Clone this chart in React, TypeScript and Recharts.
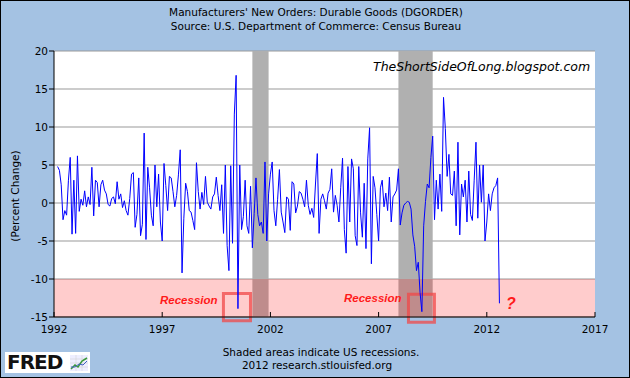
import React from "react";
import { LineChart, Line, XAxis, YAxis, CartesianGrid, ReferenceArea } from "recharts";

// Durable goods new orders, percent change month over month.
// 1992 starts in March (first change after the Feb 1992 level).
const y1992 = [4.8, 4.3, 2.4, -2.2, -1.0, -1.6, 3.0, 6.0, -4.1, 3.0];
const y1993 = [-4.0, 6.2, -1.1, 0.5, -0.3, 1.6, -0.5, 0.8, -0.2, 4.7, -1.7, 3.0];
const y1994 = [2.7, -0.5, 2.4, 3.0, 1.7, 1.2, -0.2, -0.4, 0.6, 0.8, -0.1, 2.8];
const y1995 = [0.5, 1.2, -0.6, 0.3, -1.0, -1.6, 0.6, 3.8, 4.0, -3.2, -1.5, 3.3];
const y1996 = [-4.3, -2.8, 9.2, -4.8, 4.7, 2.0, -1.6, -3.0, 5.0, -0.5, 3.8, -2.5];
const y1997 = [-5.0, 5.2, 2.3, -1.0, 3.5, 3.3, 1.5, -0.5, 1.0, 3.7, 7.0, -9.2];
const y1998 = [-2.0, 2.6, 1.5, -1.0, -1.2, -2.3, -3.5, 5.3, 1.5, -0.8, 1.4, -0.2];
const y1999 = [3.5, 0.1, -0.4, -0.8, 0.8, 1.2, 3.4, 1.0, -1.0, 2.4, -4.0, 5.0];
const y2000 = [-5.6, -8.9, 4.9, -5.3, 11.7, 16.8, -13.9, 5.0, -3.5, -1.8, 3.0, -3.0];
const y2001 = [-4.0, 2.2, -5.9, -1.4, 3.3, -1.5, -3.0, -2.5, -4.0, 5.4, -5.0, 1.2];
const y2002 = [3.8, 5.4, -1.0, -3.0, 0.5, 4.4, -1.2, -2.5, -3.9, 0.8, 0.5, -3.6];
const y2003 = [2.8, 2.5, -1.3, -0.4, 1.5, 1.3, 0.5, -0.5, 3.0, -0.3, -1.5, -0.7];
const y2004 = [-1.9, 2.5, 6.5, -4.0, 0.5, 1.2, 0.3, -0.8, 1.3, 1.8, 4.5, -1.2];
const y2005 = [1.0, -0.3, -2.5, 2.0, 5.9, -3.5, -6.6, 4.8, -2.5, 5.8, 4.5, -4.3];
const y2006 = [-5.6, 4.8, -1.3, -4.5, 2.6, -6.0, 5.8, 9.9, -8.0, 3.5, 2.0, -1.5];
const y2007 = [-5.0, 2.0, 3.0, -0.5, 1.3, -1.0, 3.4, -2.5, 0.8, 1.2, 1.7, 4.5];
const y2008 = [-2.9, -1.3, -0.3, 0.0, 0.2, 0.1, -0.8, -4.2, -5.7, -8.9, -7.8, -11.8];
const y2009 = [-14.3, -3.0, 0.2, 2.5, 2.0, 6.0, 8.8, -2.2, 3.0, -0.8, 3.8, -1.1];
const y2010 = [13.9, 9.8, 3.5, 6.4, 1.2, 1.0, 4.2, -3.0, 8.0, -4.2, 2.5, 0.8];
const y2011 = [3.0, -2.5, 4.2, -1.5, -2.3, 3.0, 8.0, -2.0, 5.0, 0.1, 5.0, -5.0];
const y2012 = [-2.5, 1.2, -1.0, 1.2, 2.0, 2.3, 3.3, -13.2];

const years: [number, number[]][] = [
  [1992, y1992], [1993, y1993], [1994, y1994], [1995, y1995], [1996, y1996],
  [1997, y1997], [1998, y1998], [1999, y1999], [2000, y2000], [2001, y2001],
  [2002, y2002], [2003, y2003], [2004, y2004], [2005, y2005], [2006, y2006],
  [2007, y2007], [2008, y2008], [2009, y2009], [2010, y2010], [2011, y2011],
  [2012, y2012],
];

const xTicks = [1992, 1997, 2002, 2007, 2012, 2017];
const yTicks = [-15, -10, -5, 0, 5, 10, 15, 20];

// NBER recessions (start, end) in decimal years
const recessions = [
  [2001 + 2 / 12, 2001 + 11 / 12],
  [2007 + 11 / 12, 2009.5],
];

// hand-drawn red boxes of the blog annotation: [x1, x2, y1, y2]
const markBoxes = [
  [1999.83, 2001.08, -11.9, -15.5],
  [2008.38, 2009.58, -12.0, -15.7],
];

const data = years.flatMap(([yr, vals]) => {
  const start = yr === 1992 ? 2 : 0;
  return vals.map((v, i) => ({ x: yr + (start + i) / 12, v }));
});

const FONT = "'DejaVu Sans', Verdana, sans-serif";
const BG = "#a4c2e3";

export default function App() {
  return (
    <div style={{ position: "relative", width: 630, height: 378, background: BG, fontFamily: FONT }}>
      <style>{"body{margin:0}"}</style>

      <LineChart width={630} height={378} data={data} margin={{ top: 51, right: 35, bottom: 0, left: 8 }}>
        <CartesianGrid horizontal vertical={false} stroke="#999" fill="#fff" />
        {recessions.map(([a, b], i) => (
          <ReferenceArea key={"r" + i} x1={a} x2={b} y1={-15} y2={20} fill="#b0b0b0" fillOpacity={1} stroke="none" />
        ))}
        <ReferenceArea y1={-15} y2={-10} fill="#ff0000" fillOpacity={0.2} stroke="none" />
        <XAxis
          dataKey="x"
          type="number"
          domain={[1992, 2017]}
          ticks={xTicks}
          interval={0}
          height={61}
          tickSize={-5}
          tickMargin={14}
          axisLine={{ stroke: "#000" }}
          tickLine={{ stroke: "#000" }}
          tick={{ fill: "#000", fontSize: 10.5, fontFamily: FONT }}
          allowDataOverflow
        />
        <YAxis
          domain={[-15, 20]}
          ticks={yTicks}
          interval={0}
          width={46}
          tickSize={5}
          tickMargin={1}
          axisLine={{ stroke: "#000" }}
          tickLine={{ stroke: "#000" }}
          tick={{ fill: "#000", fontSize: 10.5, fontFamily: FONT }}
          allowDataOverflow
        />
        <Line type="linear" dataKey="v" stroke="#0000ff" strokeWidth={1} dot={false} isAnimationActive={false} />
        {markBoxes.map(([a, b, c, d], i) => (
          <ReferenceArea
            key={"m" + i}
            x1={a}
            x2={b}
            y1={c}
            y2={d}
            ifOverflow="visible"
            fill="none"
            stroke="#f04848"
            strokeOpacity={0.75}
            strokeWidth={3}
          />
        ))}
      </LineChart>

      <svg width={630} height={378} style={{ position: "absolute", left: 0, top: 0, pointerEvents: "none" }}>
        <g fontFamily={FONT} fill="#000" fontSize={10.5} textAnchor="middle">
          <text x={316} y={16}>Manufacturers' New Orders: Durable Goods (DGORDER)</text>
          <text x={316} y={30}>Source: U.S. Department of Commerce: Census Bureau</text>
          <text x={321} y={355.5}>Shaded areas indicate US recessions.</text>
          <text x={317} y={369}>2012 research.stlouisfed.org</text>
          <text x={19} y={196} transform="rotate(-90 19 196)">(Percent Change)</text>
        </g>
        <text x={373} y={71} fontFamily={FONT} fontStyle="italic" fontSize={12.5} fill="#000">
          TheShortSideOfLong.blogspot.com
        </text>
        <g fontFamily="'Liberation Sans', Arial, sans-serif" fontStyle="italic" fontWeight="bold" fill="#ff1a1a">
          <text x={160} y={304} fontSize={11.5}>Recession</text>
          <text x={344} y={302} fontSize={11.5}>Recession</text>
          <text x={506} y={309} fontSize={16}>?</text>
        </g>
      </svg>

      {/* FRED logo */}
      <div style={{ position: "absolute", left: 5, top: 352, width: 85, height: 21, background: "#fff" }}>
        <span style={{ position: "absolute", left: 2, top: -2, fontSize: 20, fontWeight: "bold", letterSpacing: -1, color: "#111" }}>
          FRED
        </span>
        <svg width={18} height={16} style={{ position: "absolute", left: 65, top: 3 }}>
          <rect x={0} y={0} width={18} height={16} fill="#eef" />
          <path d="M0 4H18M0 8H18M0 12H18M6 0V16M12 0V16" stroke="#ccc" strokeWidth={0.5} />
          <polyline points="1,14 5,10 8,12 12,6 17,3" fill="none" stroke="#3a9a3a" strokeWidth={1.5} />
          <polyline points="1,12 5,12 9,9 13,10 17,6" fill="none" stroke="#4060c0" strokeWidth={1} />
        </svg>
      </div>

      <div style={{ position: "absolute", inset: 0, border: "1px solid #000", pointerEvents: "none" }} />
    </div>
  );
}
